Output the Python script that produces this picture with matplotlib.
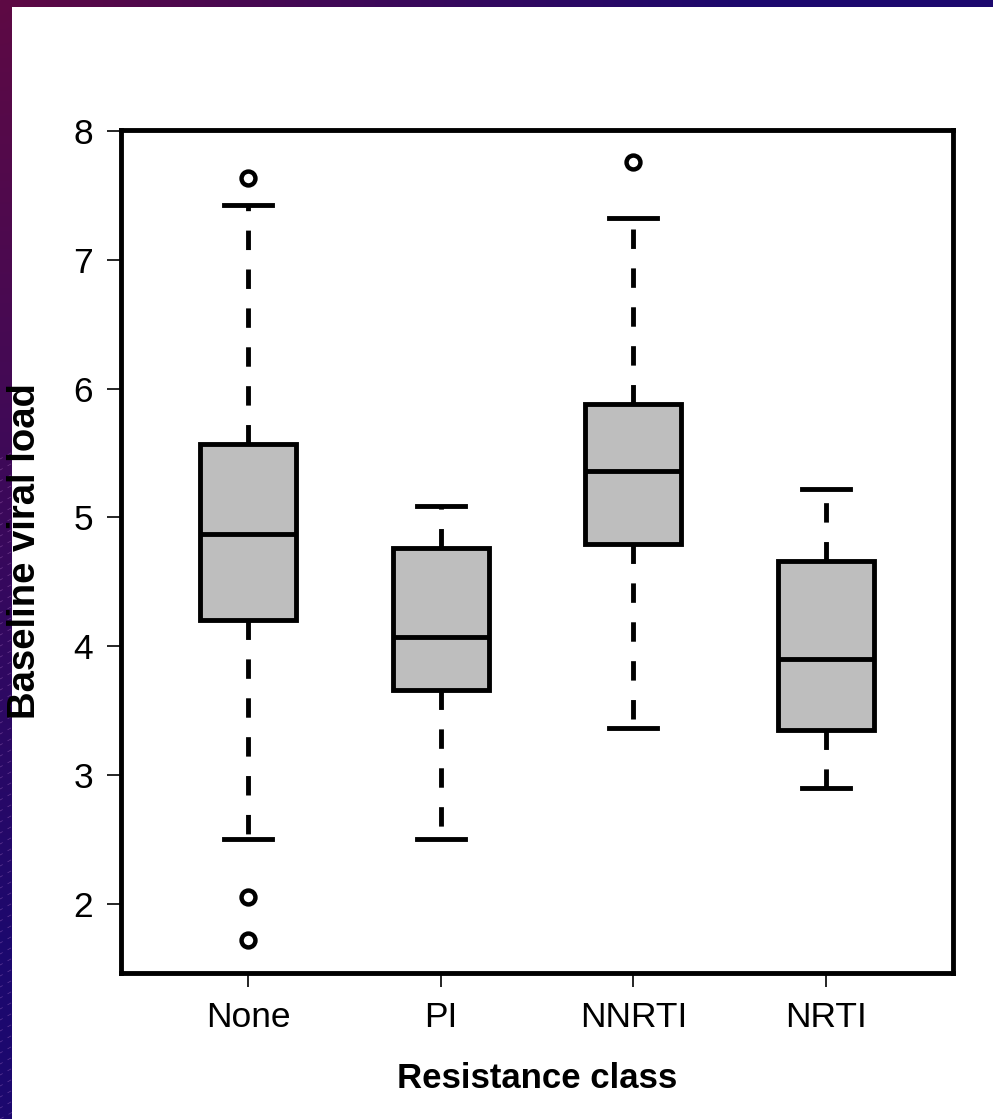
import numpy as np
import matplotlib
matplotlib.use("Agg")
import matplotlib.pyplot as plt
from matplotlib.patches import Rectangle

plt.rcParams['font.family'] = ['Liberation Sans', 'DejaVu Sans']
plt.rcParams['lines.scale_dashes'] = False

# ---- data ----
categories = ["None", "PI", "NNRTI", "NRTI"]
whisker_low = [2.50, 2.50, 3.36, 2.90]
q1 = [4.20, 3.66, 4.79, 3.35]
medians = [4.87, 4.07, 5.36, 3.90]
q3 = [5.57, 4.76, 5.88, 4.66]
whisker_high = [7.43, 5.09, 7.33, 5.22]
outliers = [[7.64, 2.05, 1.72], [], [7.76], []]
y_ticks = [2, 3, 4, 5, 6, 7, 8]

W, H = 993, 1119
fig = plt.figure(figsize=(W / 100, H / 100), dpi=100)

# ---- slide background: purple gradient with faint diagonal stripes ----
bg = fig.add_axes([0, 0, 1, 1], zorder=-10)
yy, xx = np.mgrid[0:H, 0:W]
t = np.clip(np.sqrt((xx / 750.0) ** 2 + (yy / 950.0) ** 2), 0, 1)[..., None]
c0 = np.array([0x5e, 0x0a, 0x44]) / 255.0
c1 = np.array([0x1c, 0x08, 0x6e]) / 255.0
img = c0 * (1 - t) + c1 * t
bg.imshow(img, extent=(0, W, H, 0), aspect='auto', interpolation='bilinear')
for k in range(-60, 120):
    x0 = k * 20.0
    bg.plot([x0, x0 + 1400], [H, H - 1400 * 0.55], color=(0.85, 0.6, 0.9),
            lw=0.5, alpha=0.35, linestyle=(0, (3, 4)))
bg.set_xlim(0, W)
bg.set_ylim(H, 0)
bg.axis('off')
bg.add_patch(Rectangle((12, 7), W - 12, H - 7, facecolor='white',
                       edgecolor='none', zorder=5))

# ---- main axes ----
left, right, top, bottom = 121, 953, 130, 973
ax = fig.add_axes([left / W, (H - bottom) / H, (right - left) / W, (bottom - top) / H])
ax.set_facecolor('white')

stats = []
for i, name in enumerate(categories):
    stats.append(dict(label=name, whislo=whisker_low[i], q1=q1[i], med=medians[i],
                      q3=q3[i], whishi=whisker_high[i], fliers=outliers[i]))

lw = 3.5
ax.bxp(stats, positions=[1, 2, 3, 4], widths=0.5, capwidths=0.25,
       patch_artist=True, showfliers=True,
       boxprops=dict(facecolor='#bebebe', edgecolor='black', linewidth=lw),
       medianprops=dict(color='black', linewidth=lw, solid_capstyle='butt'),
       whiskerprops=dict(color='black', linewidth=lw, linestyle=(0, (14, 14))),
       capprops=dict(color='black', linewidth=lw),
       flierprops=dict(marker='o', markerfacecolor='white', markeredgecolor='black',
                       markersize=10, markeredgewidth=3.2))

ax.set_xlim(0.34, 4.66)
ax.set_ylim(1.46, 8.01)
ax.set_yticks(y_ticks)
ax.set_yticklabels([str(v) for v in y_ticks])
ax.set_xticks([1, 2, 3, 4])
ax.set_xticklabels(categories)
ax.tick_params(axis='both', direction='out', length=10, width=1.2, color='black',
               labelsize=25.5, pad=10)
for s in ax.spines.values():
    s.set_linewidth(lw)
    s.set_color('black')

ax.set_xlabel("Resistance class", fontsize=25, fontweight='bold', va='center')
ax.xaxis.set_label_coords(0.5, (bottom - 1078) / (bottom - top))
ax.set_ylabel("Baseline viral load", fontsize=27.5, fontweight='bold', va='center')
ax.yaxis.set_label_coords((25 - left) / (right - left), 0.5)

fig.savefig("out.png", dpi=100)
